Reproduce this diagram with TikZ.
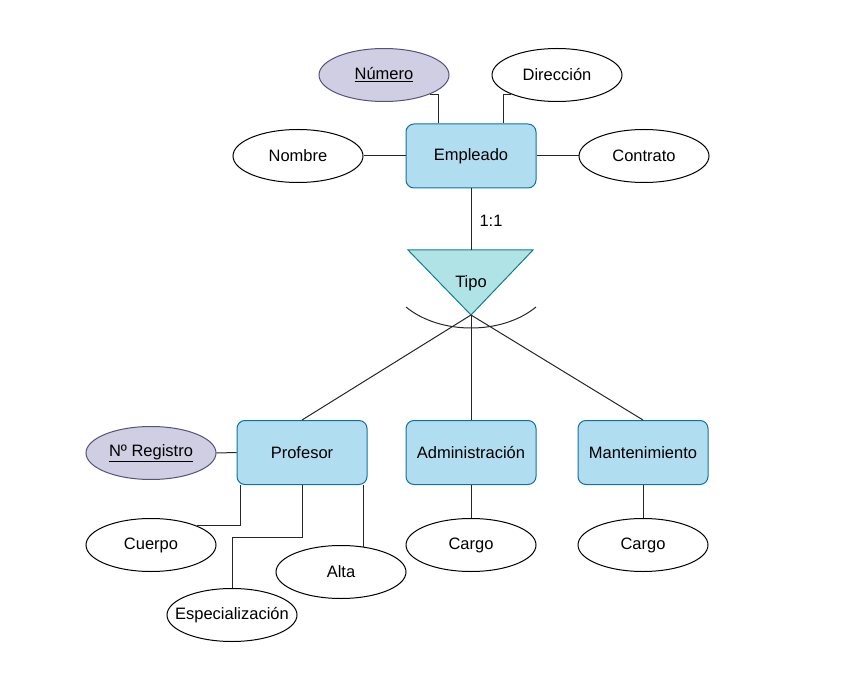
\documentclass[tikz,border=0pt]{standalone}
\usepackage{fontspec}
\setmainfont{Liberation Sans}
\definecolor{entfill}{HTML}{B1DDF0}
\definecolor{entdraw}{HTML}{10739E}
\definecolor{trifill}{HTML}{B0E3E6}
\definecolor{tridraw}{HTML}{0E8088}
\definecolor{keyfill}{HTML}{D0CEE2}
\definecolor{keydraw}{HTML}{56517E}
\newcommand{\zw}[1]{\makebox[0pt]{#1}}
\tikzset{
  entity/.style={rectangle, rounded corners=8pt, draw=entdraw, fill=entfill, line width=1pt,
    minimum width=130pt, minimum height=64pt, inner sep=0pt},
  attr/.style={ellipse, draw=black, fill=white, line width=1pt,
    minimum width=130pt, minimum height=53pt, inner sep=0pt},
  keyattr/.style={attr, draw=keydraw, fill=keyfill},
  conn/.style={draw=black!85, line width=1pt},
}
\usetikzlibrary{shapes.geometric}
\begin{document}
\begin{tikzpicture}[x=1pt,y=-1pt, font=\fontsize{16.5}{20}\selectfont]
\useasboundingbox (0,0) rectangle (843,684);
% entities
\node[entity] (Empleado) at (471,156) {Empleado};
\node[entity] (Profesor) at (302,452.5) {Profesor};
\node[entity] (Admin) at (471,452.5) {Administración};
\node[entity] (Mant) at (643,452.5) {Mantenimiento};
% attributes
\node[keyattr] (Numero) at (384,75) {\zw{\underline{Número}}};
\node[attr] (Direccion) at (557,75) {\zw{Dirección}};
\node[attr] (Nombre) at (298,156) {\zw{Nombre}};
\node[attr] (Contrato) at (644,156) {\zw{Contrato}};
\node[keyattr] (Registro) at (151,453) {\zw{\underline{Nº Registro}}};
\node[attr] (Cuerpo) at (151,545) {\zw{Cuerpo}};
\node[attr] (Espec) at (232,615) {\zw{Especialización}};
\node[attr] (Alta) at (341,572) {\zw{Alta}};
\node[attr] (Cargo1) at (471,545) {\zw{Cargo}};
\node[attr] (Cargo2) at (643,545) {\zw{Cargo}};
% triangle
\coordinate (tl) at (408,250);
\coordinate (tr) at (533,250);
\coordinate (apex) at (471,315);
\coordinate (tipotop) at (471,250);
\draw[draw=tridraw, fill=trifill, line width=1pt] (tl) -- (tr) -- (apex) -- cycle;
\node (Tipo) at (471,283) {Tipo};
\coordinate (arcl) at (406,307);
\coordinate (arcr) at (536,307);
\draw[conn] (arcl) .. controls (440,335) and (502,335) .. (arcr);
% connectors top
\draw[conn] (Empleado) -- (tipotop);
\node (lab) at (491,221) {1:1};
\draw[conn] (Nombre) -- (Empleado);
\draw[conn] (Contrato) -- (Empleado);
\coordinate (numend) at ([xshift=-33pt]Empleado.north);
\coordinate (dirend) at ([xshift=32pt]Empleado.north);
\draw[conn] (Numero.south east) -| (numend);
\draw[conn] (Direccion.south west) -| (dirend);
% specialisation lines
\draw[conn] (apex) -- (Profesor.north);
\draw[conn] (apex) -- (Admin.north);
\draw[conn] (apex) -- (Mant.north);
% bottom connectors
\draw[conn] (Registro) -- (Profesor);
\coordinate (cuerpotop) at ([xshift=-62pt]Profesor.south);
\draw[conn] (cuerpotop) |- (Cuerpo.north east);
\coordinate (espbend) at (302,537);
\draw[conn] (Profesor.south) -- (espbend) -| (Espec.north);
\coordinate (altatop) at ([xshift=61pt]Profesor.south);
\coordinate (altaend) at (363,547);
\draw[conn] (altatop) -- (altaend);
\draw[conn] (Admin) -- (Cargo1);
\draw[conn] (Mant) -- (Cargo2);
\end{tikzpicture}
\end{document}
